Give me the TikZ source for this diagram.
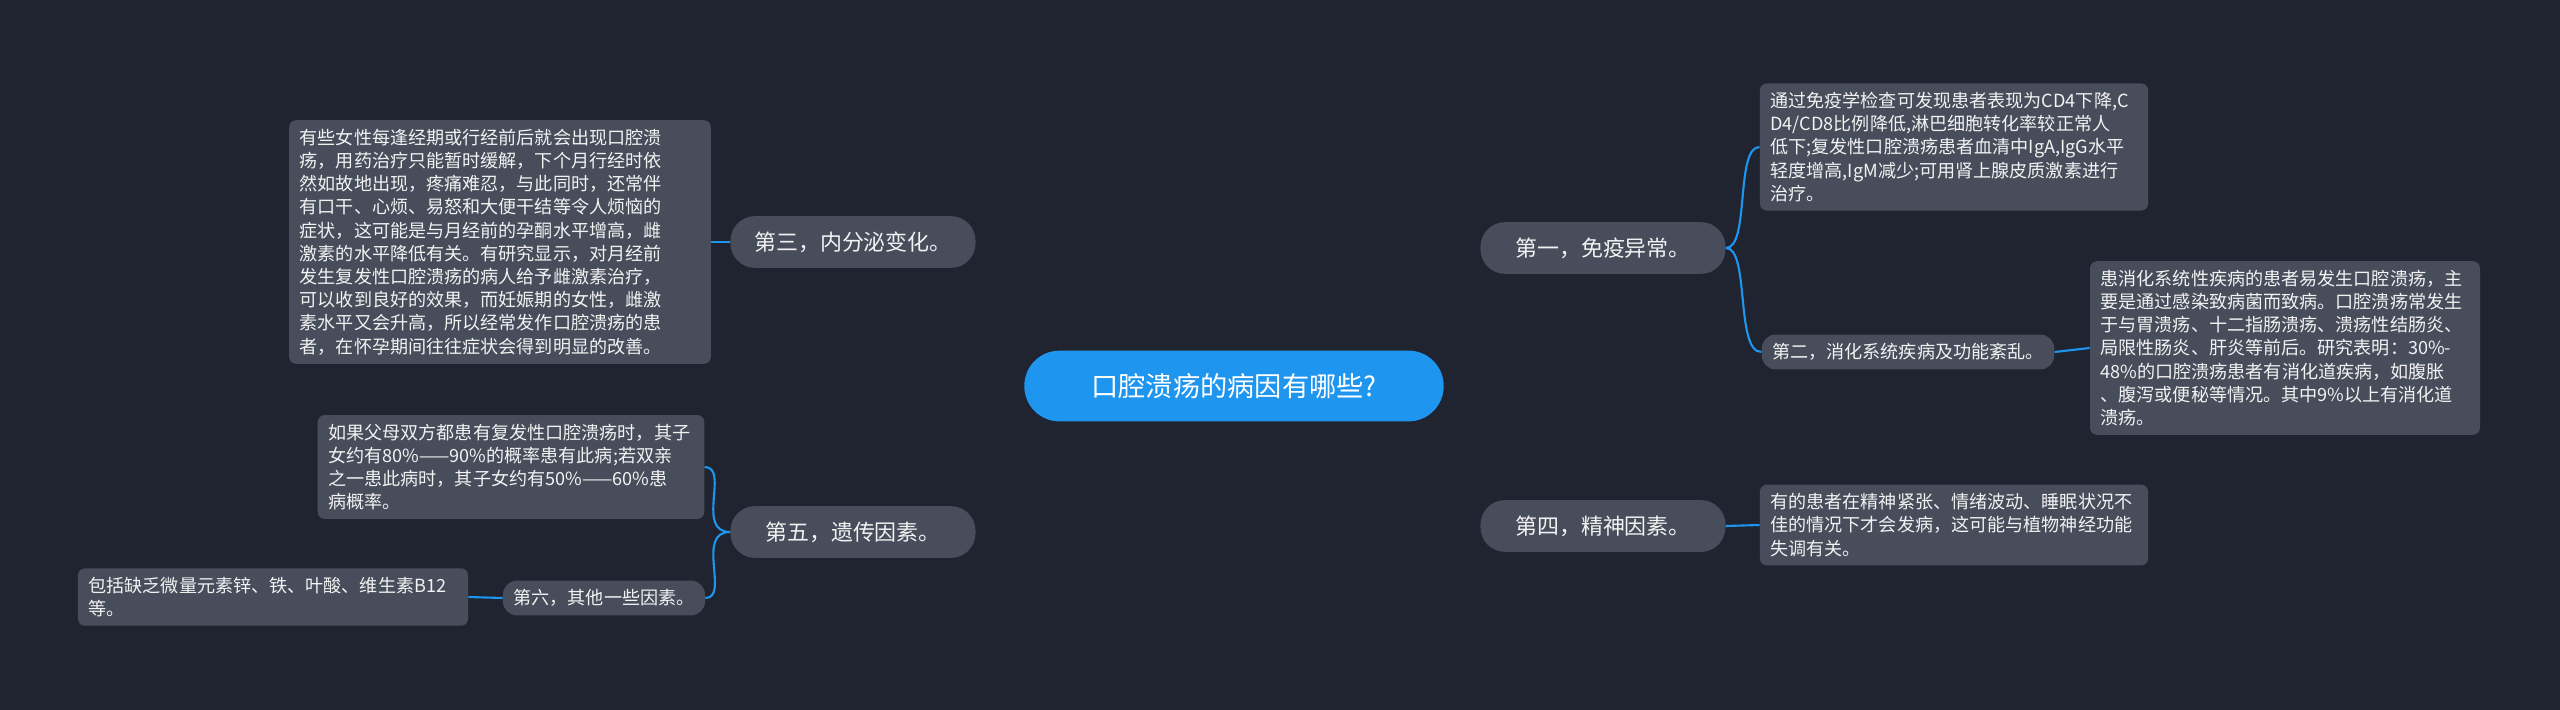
\documentclass[tikz,border=0pt]{standalone}
\usepackage{fontspec}
\setmainfont{Noto Sans CJK SC}
\usetikzlibrary{backgrounds}
\definecolor{bg}{HTML}{1F2430}
\definecolor{boxc}{HTML}{474D5B}
\definecolor{blu}{HTML}{1E96F0}
\definecolor{txt}{HTML}{F2F2F2}
\begin{document}
\begin{tikzpicture}[x=0.02cm,y=-0.02cm,
 leaf/.style={fill=boxc,rounded corners=4pt,text=txt,align=left,inner xsep=6pt,inner ysep=5pt,font=\fontsize{10.3}{13.2}\selectfont},
 lvl/.style={fill=boxc,rounded corners=14pt,text=txt,minimum width=246*0.567pt,minimum height=52*0.567pt,font=\fontsize{12.5}{15}\selectfont},
 con/.style={blu,line width=1.2pt}]
\fill[bg] (0,0) rectangle (2560,710);
\node[fill=blu,rounded corners=20pt,text=white,minimum width=421*0.567pt,minimum height=71*0.567pt,font=\fontsize{15.5}{18}\selectfont] (root) at (1234,386) {口腔溃疡的病因有哪些?};
\node[lvl] (n1) at (1603,248) {第一，免疫异常。};
\node[lvl] (n4) at (1603,526) {第四，精神因素。};
\node[lvl] (n3) at (853,242) {第三，内分泌变化。};
\node[lvl] (n5) at (853,532) {第五，遗传因素。};
\node[leaf,text width=209pt] (imm) at (1954,147) {通过免疫学检查可发现患者表现为CD4下降,C\\D4/CD8比例降低,淋巴细胞转化率较正常人\\低下;复发性口腔溃疡患者血清中IgA,IgG水平\\轻度增高,IgM减少;可用肾上腺皮质激素进行\\治疗。};
\node[leaf,rounded corners=8pt] (n2) at (1908,352) {第二，消化系统疾病及功能紊乱。};
\node[leaf,text width=210pt] (dig) at (2285,348) {患消化系统性疾病的患者易发生口腔溃疡，主\\要是通过感染致病菌而致病。口腔溃疡常发生\\于与胃溃疡、十二指肠溃疡、溃疡性结肠炎、\\局限性肠炎、肝炎等前后。研究表明：30\%-\\48\%的口腔溃疡患者有消化道疾病，如腹胀\\、腹泻或便秘等情况。其中9\%以上有消化道\\溃疡。};
\node[leaf,text width=209pt] (men) at (1954,525) {有的患者在精神紧张、情绪波动、睡眠状况不\\佳的情况下才会发病，这可能与植物神经功能\\失调有关。};
\node[leaf,text width=228pt] (endo) at (500,242) {有些女性每逢经期或行经前后就会出现口腔溃\\疡，用药治疗只能暂时缓解，下个月行经时依\\然如故地出现，疼痛难忍，与此同时，还常伴\\有口干、心烦、易怒和大便干结等令人烦恼的\\症状，这可能是与月经前的孕酮水平增高，雌\\激素的水平降低有关。有研究显示，对月经前\\发生复发性口腔溃疡的病人给予雌激素治疗，\\可以收到良好的效果，而妊娠期的女性，雌激\\素水平又会升高，所以经常发作口腔溃疡的患\\者，在怀孕期间往往症状会得到明显的改善。};
\node[leaf,text width=208pt] (gen) at (511,467) {如果父母双方都患有复发性口腔溃疡时，其子\\女约有80\%——90\%的概率患有此病;若双亲\\之一患此病时，其子女约有50\%——60\%患\\病概率。};
\node[leaf,rounded corners=8pt] (n6) at (604,598) {第六，其他一些因素。};
\node[leaf,text width=210pt] (oth) at (273,597) {包括缺乏微量元素锌、铁、叶酸、维生素B12\\等。};
\begin{scope}[on background layer]
\fill[bg] (0,0) rectangle (2560,710);
\draw[con] (root.center) .. controls (1330,386) and (1320,248) .. (n1.west);
\draw[con] (root.center) .. controls (1330,386) and (1320,526) .. (n4.west);
\draw[con] (root.center) .. controls (1140,386) and (1150,242) .. (n3.east);
\draw[con] (root.center) .. controls (1140,386) and (1150,532) .. (n5.east);
\end{scope}
\draw[con] (n1.east) .. controls (1750,248) and (1735,147) .. (imm.west);
\draw[con] (n1.east) .. controls (1750,248) and (1735,352) .. (n2.west);
\draw[con] (n2.east) -- (dig.west);
\draw[con] (n4.east) -- (men.west);
\draw[con] (n3.west) -- (endo.east);
\draw[con] (n5.west) .. controls (695,532) and (730,467) .. (gen.east);
\draw[con] (n5.west) .. controls (695,532) and (730,598) .. (n6.east);
\draw[con] (n6.west) -- (oth.east);
\end{tikzpicture}
\end{document}
